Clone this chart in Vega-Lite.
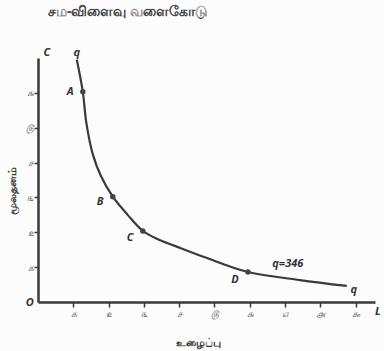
{
  "$schema": "https://vega.github.io/schema/vega-lite/v6.json",
  "width": 337,
  "height": 244,
  "autosize": {"type": "none"},
  "padding": {"left": 38, "top": 58, "right": 9, "bottom": 49},
  "background": "#fcfcfc",
  "config": {
    "view": {"stroke": null},
    "font": "Noto Sans",
    "axis": {
      "grid": false,
      "domainColor": "#3a3a3a",
      "domainWidth": 2.5,
      "tickColor": "#3a3a3a",
      "tickWidth": 1.5,
      "labelColor": "#444444",
      "labelFontStyle": "italic",
      "labelFontSize": 9,
      "titleColor": "#333333",
      "titleFontSize": 11,
      "titleFontWeight": "bold"
    }
  },
  "title": {
    "text": "சம-விளைவு வளைகோடு",
    "anchor": "start",
    "dx": 42,
    "offset": 28,
    "fontSize": 14,
    "fontWeight": "bold",
    "color": "#444444"
  },
  "datasets": {
    "curve": [
      {"x": 1.10, "y": 6.95},
      {"x": 1.27, "y": 6.03},
      {"x": 1.37, "y": 5.14},
      {"x": 1.55, "y": 4.25},
      {"x": 1.78, "y": 3.62},
      {"x": 2.12, "y": 3.02},
      {"x": 2.54, "y": 2.50},
      {"x": 2.97, "y": 2.04},
      {"x": 3.40, "y": 1.80},
      {"x": 3.88, "y": 1.61},
      {"x": 4.79, "y": 1.26},
      {"x": 5.95, "y": 0.86},
      {"x": 7.42, "y": 0.63},
      {"x": 8.75, "y": 0.46}
    ],
    "points": [
      {"name": "A", "x": 1.27, "y": 6.03},
      {"name": "B", "x": 2.12, "y": 3.02},
      {"name": "C", "x": 2.97, "y": 2.04},
      {"name": "D", "x": 5.95, "y": 0.86}
    ],
    "labels": [
      {"t": "A", "x": 0.91, "y": 6.03},
      {"t": "B", "x": 1.76, "y": 2.87},
      {"t": "C", "x": 2.61, "y": 1.84},
      {"t": "D", "x": 5.58, "y": 0.63},
      {"t": "q", "x": 1.10, "y": 7.13},
      {"t": "q", "x": 8.95, "y": 0.34},
      {"t": "q=346", "x": 7.08, "y": 1.09},
      {"t": "C", "x": 0.25, "y": 7.15},
      {"t": "O", "x": -0.23, "y": -0.03},
      {"t": "L", "x": 9.63, "y": -0.29}
    ]
  },
  "layer": [
    {
      "data": {"name": "curve"},
      "mark": {"type": "line", "interpolate": "catmull-rom", "color": "#3a3a3a", "strokeWidth": 2.2},
      "encoding": {
        "x": {
          "field": "x",
          "type": "quantitative",
          "scale": {"domain": [0, 9.55], "nice": false, "zero": false},
          "axis": {
            "values": [1, 2, 3, 4, 5, 6, 7, 8, 9],
            "labelExpr": "['0','௧','௨','௩','௪','௫','௬','௭','௮','௯'][datum.value]",
            "tickSize": 5,
            "labelPadding": 2,
            "title": "உழைப்பு",
            "titleX": 160,
            "titleY": 40,
            "titleBaseline": "middle"
          }
        },
        "y": {
          "field": "y",
          "type": "quantitative",
          "scale": {"domain": [0, 7], "nice": false, "zero": false},
          "axis": {
            "values": [1, 2, 3, 4, 5, 6],
            "labelExpr": "['0','௧','௨','௩','௪','௫','௬','௭','௮','௯'][datum.value]",
            "tickSize": 4,
            "labelPadding": 1,
            "title": "மூலதனம்",
            "titleX": -26,
            "titleY": 132,
            "titleAngle": -90,
            "titleBaseline": "middle",
            "titleAlign": "center"
          }
        }
      }
    },
    {
      "data": {"name": "points"},
      "mark": {"type": "point", "filled": true, "size": 30, "color": "#444444", "opacity": 1},
      "encoding": {
        "x": {"field": "x", "type": "quantitative"},
        "y": {"field": "y", "type": "quantitative"}
      }
    },
    {
      "data": {"name": "labels"},
      "mark": {"type": "text", "fontSize": 11, "fontWeight": "bold", "fontStyle": "italic", "color": "#333333"},
      "encoding": {
        "x": {"field": "x", "type": "quantitative"},
        "y": {"field": "y", "type": "quantitative"},
        "text": {"field": "t", "type": "nominal"}
      }
    }
  ]
}
